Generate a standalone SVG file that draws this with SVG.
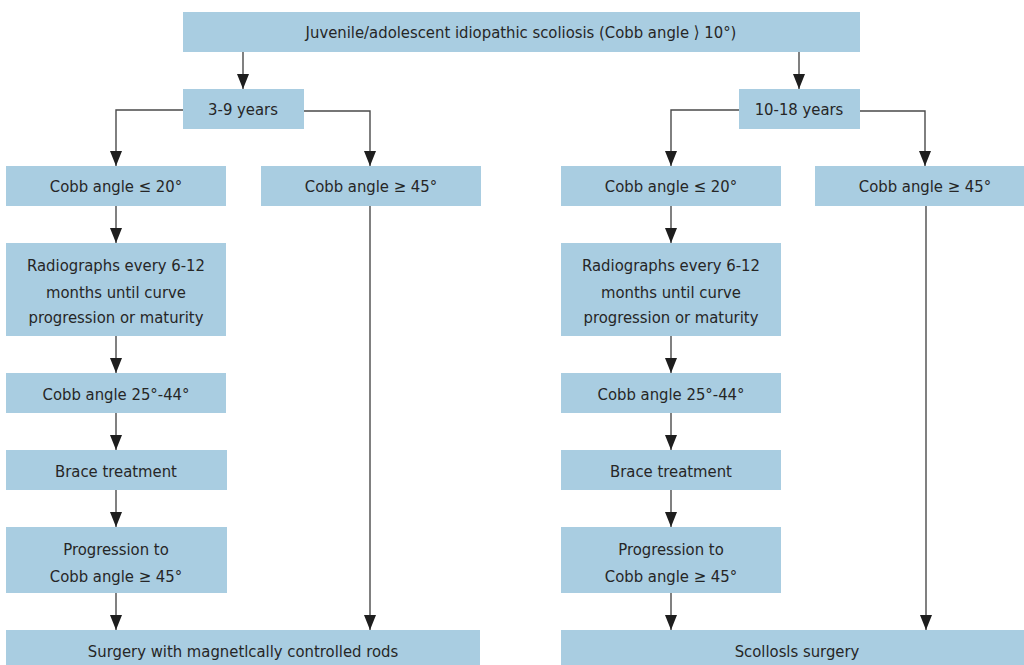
<svg xmlns="http://www.w3.org/2000/svg" width="1024" height="665" viewBox="0 0 1024 665">
<defs>
<style>
.box{fill:#a9cde1}
.t{font-family:"Liberation Sans Narrow","DejaVu Sans Condensed","Roboto",sans-serif;font-size:16.5px;fill:#262626;text-anchor:middle}
.c{fill:none;stroke:#4a4a4a;stroke-width:1.4}
</style>
<marker id="ah" markerUnits="userSpaceOnUse" markerWidth="15" markerHeight="12" refX="15" refY="6" orient="auto">
<path d="M0,0 L15,6 L0,12 z" fill="#1e1e1e"/>
</marker>
</defs>
<rect width="1024" height="665" fill="#ffffff"/>
<g id="connectors">
<path class="c" d="M243 52 V89" marker-end="url(#ah)"/>
<path class="c" d="M799 52 V89" marker-end="url(#ah)"/>
<path class="c" d="M183 110 H116 V166" marker-end="url(#ah)"/>
<path class="c" d="M304 111 H370 V166" marker-end="url(#ah)"/>
<path class="c" d="M739 110 H671 V166" marker-end="url(#ah)"/>
<path class="c" d="M860 111 H925 V166" marker-end="url(#ah)"/>
<path class="c" d="M116 206 V243" marker-end="url(#ah)"/>
<path class="c" d="M116 336 V373" marker-end="url(#ah)"/>
<path class="c" d="M116 413 V450" marker-end="url(#ah)"/>
<path class="c" d="M116 490 V527" marker-end="url(#ah)"/>
<path class="c" d="M116 593 V630" marker-end="url(#ah)"/>
<path class="c" d="M370 206 V630" marker-end="url(#ah)"/>
<path class="c" d="M671 206 V243" marker-end="url(#ah)"/>
<path class="c" d="M671 336 V373" marker-end="url(#ah)"/>
<path class="c" d="M671 413 V450" marker-end="url(#ah)"/>
<path class="c" d="M671 490 V527" marker-end="url(#ah)"/>
<path class="c" d="M671 593 V630" marker-end="url(#ah)"/>
<path class="c" d="M926 206 V630" marker-end="url(#ah)"/>
</g>
<g id="root"><rect class="box" x="183" y="12" width="677" height="40"/><text class="t" x="521" y="38">Juvenile/adolescent idiopathic scoliosis (Cobb angle ⟩ 10°)</text></g>
<g id="age-3-9"><rect class="box" x="183" y="89" width="121" height="40"/><text class="t" x="243" y="115">3-9 years</text></g>
<g id="age-10-18"><rect class="box" x="739" y="89" width="121" height="40"/><text class="t" x="799" y="115">10-18 years</text></g>
<g id="l-le20"><rect class="box" x="6" y="166" width="220" height="40"/><text class="t" x="116" y="192">Cobb angle ≤ 20°</text></g>
<g id="l-ge45"><rect class="box" x="261" y="166" width="220" height="40"/><text class="t" x="371" y="192">Cobb angle ≥ 45°</text></g>
<g id="r-le20"><rect class="box" x="561" y="166" width="220" height="40"/><text class="t" x="671" y="192">Cobb angle ≤ 20°</text></g>
<g id="r-ge45"><rect class="box" x="815" y="166" width="220" height="40"/><text class="t" x="925" y="192">Cobb angle ≥ 45°</text></g>
<g id="l-radio"><rect class="box" x="6" y="243" width="220" height="93"/><text class="t" x="116" y="271">Radiographs every 6-12</text><text class="t" x="116" y="298">months until curve</text><text class="t" x="116" y="323">progression or maturity</text></g>
<g id="r-radio"><rect class="box" x="561" y="243" width="220" height="93"/><text class="t" x="671" y="271">Radiographs every 6-12</text><text class="t" x="671" y="298">months until curve</text><text class="t" x="671" y="323">progression or maturity</text></g>
<g id="l-2544"><rect class="box" x="6" y="373" width="220" height="40"/><text class="t" x="116" y="400">Cobb angle 25°-44°</text></g>
<g id="r-2544"><rect class="box" x="561" y="373" width="220" height="40"/><text class="t" x="671" y="400">Cobb angle 25°-44°</text></g>
<g id="l-brace"><rect class="box" x="6" y="450" width="221" height="40"/><text class="t" x="116" y="477">Brace treatment</text></g>
<g id="r-brace"><rect class="box" x="561" y="450" width="220" height="40"/><text class="t" x="671" y="477">Brace treatment</text></g>
<g id="l-prog"><rect class="box" x="6" y="527" width="221" height="66"/><text class="t" x="116" y="555">Progression to</text><text class="t" x="116" y="582">Cobb angle ≥ 45°</text></g>
<g id="r-prog"><rect class="box" x="561" y="527" width="220" height="66"/><text class="t" x="671" y="555">Progression to</text><text class="t" x="671" y="582">Cobb angle ≥ 45°</text></g>
<g id="l-surgery"><rect class="box" x="6" y="630" width="474" height="40"/><text class="t" x="243" y="657">Surgery with magnetlcally controlled rods</text></g>
<g id="r-surgery"><rect class="box" x="561" y="630" width="472" height="40"/><text class="t" x="797" y="657">Scollosls surgery</text></g>
</svg>
